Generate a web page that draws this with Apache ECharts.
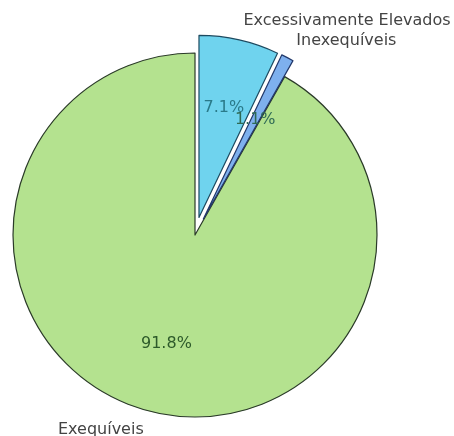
<!DOCTYPE html>
<html>
<head>
<meta charset="utf-8">
<script src="https://cdn.jsdelivr.net/npm/echarts@6/dist/echarts.min.js"></script>
<style>html,body{margin:0;padding:0;background:#fff}#c{width:454px;height:436px}</style>
</head>
<body>
<div id="c"></div>
<script>
var categories = ['Exequíveis', 'Inexequíveis', 'Excessivamente Elevados'];
var values = [91.8, 1.1, 7.1];
var exploded = [false, true, true];
var colors = ['#b4e28f', '#7eb0ee', '#6fd3ee'];
var edgeColors = ['#2a3a28', '#22386a', '#1c4a60'];
var pctColors = ['#2d5a2a', '#2f6a55', '#2a7a8a'];

var R = 182;
var C = [195, 235];
var OFF = 18;
var font = 'DejaVu Sans';

function mk(i, extra) {
  var o = { name: categories[i], value: values[i], selected: exploded[i] };
  for (var k in extra) o[k] = extra[k];
  return o;
}

var mainData = categories.map(function (c, i) {
  return mk(i, { itemStyle: { color: colors[i], borderColor: edgeColors[i], borderWidth: 1.2 } });
});
var pctData = categories.map(function (c, i) {
  return mk(i, { label: { color: pctColors[i] } });
});
var nameData = categories.map(function (c, i) {
  return mk(i, {});
});

var common = {
  type: 'pie',
  center: C,
  startAngle: 90,
  clockwise: false,
  selectedMode: 'multiple',
  selectedOffset: OFF,
  avoidLabelOverlap: false,
  minShowLabelAngle: 0,
  labelLayout: { hideOverlap: false },
  animation: false,
  emphasis: { disabled: true },
  silent: true
};

var option = {
  backgroundColor: '#fff',
  series: [
    Object.assign({}, common, {
      radius: [0, R],
      data: mainData,
      label: { show: false },
      labelLine: { show: false }
    }),
    Object.assign({}, common, {
      radius: [0, R * 1.2],
      data: pctData,
      z: 5,
      itemStyle: { color: 'rgba(0,0,0,0)', borderWidth: 0 },
      label: {
        show: true, position: 'inside', fontFamily: font, fontSize: 16,
        formatter: function (p) { return p.value.toFixed(1) + '%'; }
      },
      labelLine: { show: false }
    }),
    Object.assign({}, common, {
      radius: [0, R * 1.1 + 1],
      data: nameData,
      z: 1,
      itemStyle: { color: 'rgba(0,0,0,0)', borderWidth: 0 },
      label: {
        show: true, position: 'outside', fontFamily: font, fontSize: 16,
        color: '#444', distanceToLabelLine: 0, formatter: '{b}'
      },
      labelLine: { show: false, length: 0, length2: 0 }
    })
  ]
};

var chart = echarts.init(document.getElementById('c'), null, { renderer: 'canvas' });
chart.setOption(option);
</script>
</body>
</html>
